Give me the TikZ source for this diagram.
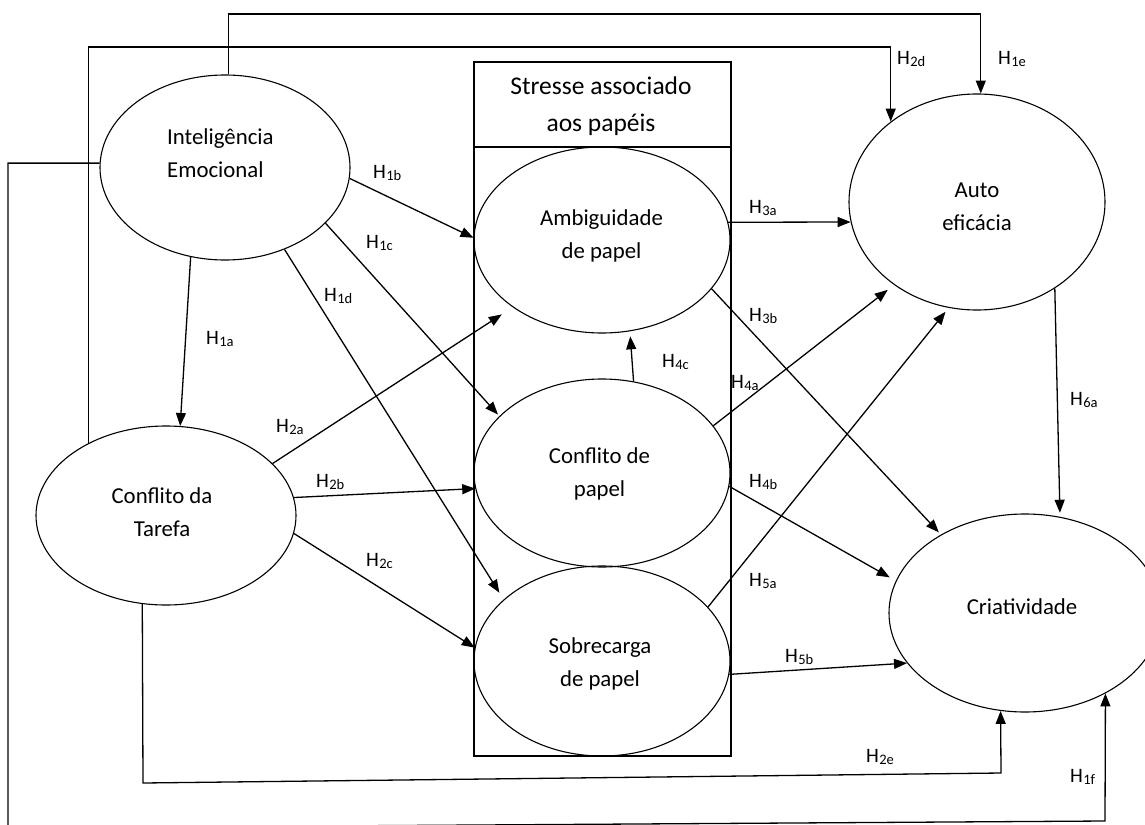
\documentclass[tikz,border=0pt]{standalone}
\usepackage{fontspec}
\setmainfont{Carlito}
\usetikzlibrary{arrows.meta,shapes.geometric}

% hypothesis label: H with a small lowered index
\newcommand{\hlab}[1]{H\kern0.3pt\raisebox{-1.5pt}{\fontsize{14.5}{14.5}\selectfont #1}}

\begin{document}
\begin{tikzpicture}[x=1pt,y=-1pt,
  oval/.style={draw, ellipse, line width=1.1pt, inner sep=0pt},
  conn/.style={draw, line width=1.3pt},
  arr/.style={conn, -{Triangle[length=13pt,width=10pt]}},
  lbl/.style={font=\fontsize{20.5}{21}\selectfont, inner sep=0pt, anchor=west},
  txt/.style={font=\fontsize{22.8}{33}\selectfont, inner sep=0pt, align=center},
]
\fill[white] (0,0) rectangle (1145,824);
\useasboundingbox (0,0) rectangle (1145,824);

% constructs
\node[oval, minimum width=250pt, minimum height=185pt] (ie) at (225,167.5) {};
\node[oval, minimum width=260pt, minimum height=179pt] (ct) at (166,515.5) {};
\node[draw, line width=1.3pt, minimum width=257pt, minimum height=694pt, inner sep=0pt] (box) at (602.5,409) {};
\coordinate (divy) at (0,147);
\draw[line width=1.3pt] (box.west |- divy) -- (box.east |- divy);
\node[oval, minimum width=256pt, minimum height=186pt] (amb) at (602,240) {};
\node[oval, minimum width=256pt, minimum height=188pt] (cp) at (602,473) {};
\node[oval, minimum width=256pt, minimum height=190pt] (sp) at (602,661) {};
\node[oval, minimum width=256pt, minimum height=216pt] (ae) at (977,202) {};
\node[oval, minimum width=272pt, minimum height=198pt] (cr) at (1025,613) {};

% texts
\node[txt, font=\fontsize{25.5}{37}\selectfont] (boxt) at (601,106.1) {\strut Stresse associado\\\strut aos papéis};
\node[txt, align=left, anchor=west] (iet) at (167,154.4) {\strut Inteligência\\\strut Emocional};
\node[txt] (ctt) at (162,513.4) {\strut Conflito da\\\strut Tarefa};
\node[txt] (ambt) at (601.5,234.9) {\strut Ambiguidade\\\strut de papel};
\node[txt] (cpt) at (599.5,473.4) {\strut Conflito de\\\strut papel};
\node[txt] (spt) at (600,663.4) {\strut Sobrecarga\\\strut de papel};
\node[txt] (aet) at (977,207.4) {\strut Auto\\\strut eficácia};
\node[txt] (crt) at (1022,607.4) {\strut Criatividade};

% bend points of the routed connectors
\coordinate (top1) at (600,14);
\coordinate (top2) at (500,47);
\coordinate (lft) at (8,828);
\coordinate (botr) at (1105,821);
\coordinate (bot2l) at (143,783);
\coordinate (bot2r) at (1001,773);

% routed connectors
\draw[arr] (ie.88) |- (top1) -| (ae.88);
\draw[arr] (ct.137) |- (top2) -| (ae.137);
\draw[arr] (ie.178) -| (lft) -- (botr) -- (cr.-45);
\draw[arr] (ct.-105) -- (bot2l) -- (bot2r) -- (cr.-104);

% direct connectors
\draw[arr] (ie.-111) -- (ct.81);
\draw[arr] (ie.-5) -- (amb.179);
\draw[arr, shorten >=2pt] (ie.-29) -- (cp.151);
\draw[arr, shorten >=8pt] (ie.-54) -- (sp.148);
\draw[arr, shorten >=13pt] (ct.26) -- (amb.-143);
\draw[arr] (ct.8) -- (cp.187);
\draw[arr] (ct.-8) -- (sp.174);
\draw[arr] (amb.8) -- (ae.189);
\draw[arr, shorten >=3pt] (amb.-24) -- (cr.137);
\draw[arr, shorten >=8pt] (cp.23) -- (ae.-135);
\draw[arr, shorten >=7pt] (cp.-6) -- (cr.166.5);
\draw[arr, shorten >=5pt] (cp.71) -- (amb.-73);
\draw[arr, shorten >=5pt] (sp.27) -- (ae.-105);
\draw[arr] (sp.-6) -- (cr.-157);
\draw[arr, shorten >=4pt] (ae.-48.5) -- (cr.70.7);

% hypothesis labels
\node[lbl] (l1b) at (373,173) {\hlab{1b}};
\node[lbl] (l1c) at (366,243) {\hlab{1c}};
\node[lbl] (l1d) at (324,296) {\hlab{1d}};
\node[lbl] (l1a) at (206,339) {\hlab{1a}};
\node[lbl] (l2a) at (276,427) {\hlab{2a}};
\node[lbl] (l2b) at (316,482) {\hlab{2b}};
\node[lbl] (l2c) at (366,561) {\hlab{2c}};
\node[lbl] (l3a) at (749,208) {\hlab{3a}};
\node[lbl] (l3b) at (749,316) {\hlab{3b}};
\node[lbl] (l4c) at (662,362) {\hlab{4c}};
\node[lbl] (l4a) at (731,383) {\hlab{4a}};
\node[lbl] (l4b) at (749,482) {\hlab{4b}};
\node[lbl] (l5a) at (749,581) {\hlab{5a}};
\node[lbl] (l5b) at (785,657) {\hlab{5b}};
\node[lbl] (l6a) at (1070,400) {\hlab{6a}};
\node[lbl] (l2d) at (897,59) {\hlab{2d}};
\node[lbl] (l1e) at (998,59) {\hlab{1e}};
\node[lbl] (l2e) at (866,757) {\hlab{2e}};
\node[lbl] (l1f) at (1070,777) {\hlab{1f}};
\end{tikzpicture}
\end{document}
